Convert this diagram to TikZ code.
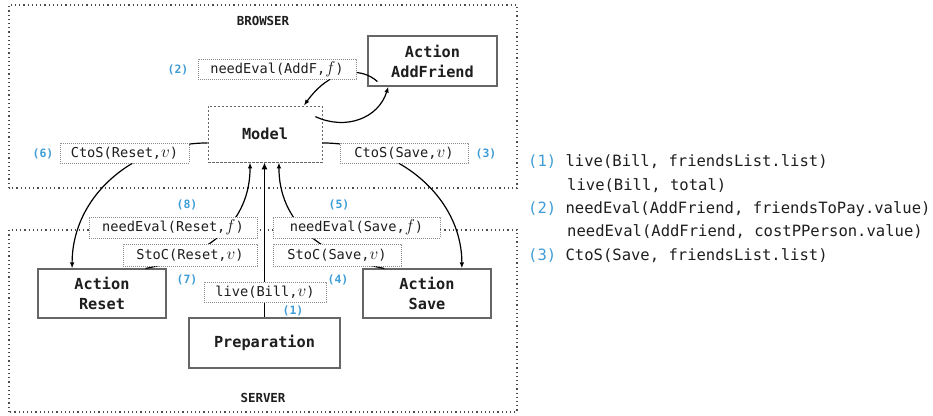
\documentclass[tikz,border=0pt]{standalone}
\usepackage{fontspec}
\setmonofont{DejaVu Sans Mono}
\usetikzlibrary{arrows.meta}
\definecolor{numblue}{RGB}{62,156,214}
\definecolor{ink}{RGB}{30,30,30}
% italic variables inside the mono labels
\newcommand{\varf}{{\fontsize{17}{17}\selectfont$f$}}
\newcommand{\varv}{{\fontsize{17}{17}\selectfont$v$}}
\tikzset{
  zone/.style={draw=black!70, line width=1.2bp, dash pattern=on 1.2bp off 3bp},
  zonetitle/.style={font=\ttfamily\bfseries\fontsize{12.5}{14}\selectfont, text=ink},
  actbox/.style={draw=black!60, line width=1.1bp, fill=white, align=center, inner sep=0pt,
    font=\ttfamily\bfseries\fontsize{15.3}{20}\selectfont, text=ink},
  modelbox/.style={draw=black!60, line width=0.8bp, dash pattern=on 2.5bp off 1.5bp, fill=white,
    inner sep=0pt, font=\ttfamily\bfseries\fontsize{15.3}{20}\selectfont, text=ink},
  lbl/.style={draw=black!45, line width=0.6bp, dash pattern=on 0.8bp off 1.2bp, fill=white,
    inner sep=0pt, minimum height=20bp, font=\ttfamily\fontsize{13.7}{16}\selectfont, text=ink},
  num/.style={font=\ttfamily\bfseries\fontsize{11.5}{13}\selectfont, text=numblue},
  edge/.style={draw=black, line width=1.2bp, -{Latex[length=6bp,width=4.5bp]}},
  listline/.style={anchor=base west, inner sep=0pt, font=\ttfamily\fontsize{15.6}{18}\selectfont, text=ink}
}
\begin{document}
\begin{tikzpicture}[x=1bp,y=1bp]
\useasboundingbox (0,0) rectangle (933,415);

% client and server areas
\draw[zone] (9,227) rectangle (517,410);
\draw[zone] (9,3) rectangle (517,185);
\node[zonetitle] (browser) at (263,394) {BROWSER};
\node[zonetitle] (server) at (263,17) {SERVER};

% components
\node[actbox, minimum width=129bp, minimum height=50bp] (AF) at (432.5,354) {Action\\AddFriend};
\node[modelbox, minimum width=114bp, minimum height=56bp] (Model) at (265,281) {Model};
\node[actbox, minimum width=128bp, minimum height=49bp] (Reset) at (102,121.5) {Action\\Reset};
\node[actbox, minimum width=128bp, minimum height=49bp] (Save) at (427,121.5) {Action\\Save};
\node[actbox, minimum width=151bp, minimum height=50bp] (Prep) at (264.5,72) {Preparation};

% messages
\draw[edge] ([shift={(10,5)}]AF.south west) .. controls +(-18,16) and +(26,36) .. ([xshift=39]Model.north);
\draw[edge] ([shift={(-7,-11)}]Model.north east) .. controls +(30,-14) and +(-10,-32) .. ([xshift=21]AF.south west);
\draw[edge] ([yshift=-9]Model.west) .. controls +(-73,0) and +(0,73) .. ([xshift=-30]Reset.north);
\draw[edge] ([yshift=-9]Model.east) .. controls +(73,0) and +(0,73) .. ([xshift=35]Save.north);
\draw[edge, -{Latex[length=7bp,width=6bp]}] (Prep.north) -- (Prep.north |- Model.south);
\draw[edge] ([xshift=-21]Reset.north east) .. controls +(64,12) and +(0,-59) .. ([xshift=-15]Model.south);
\draw[edge] ([xshift=22]Save.north west) .. controls +(-64,12) and +(0,-59) .. ([xshift=14]Model.south);

% message labels
\node[lbl, minimum width=158bp] (lAF) at (277,346) {needEval(AddF,\varf)};
\node[lbl, minimum width=129bp] (lCR) at (124.5,262) {CtoS(Reset,\varv)};
\node[lbl, minimum width=128bp] (lCS) at (404,262) {CtoS(Save,\varv)};
\node[lbl, minimum width=168bp, minimum height=21bp] (lNR) at (173,187.5) {needEval(Reset,\varf)};
\node[lbl, minimum width=134bp, minimum height=22bp] (lSR) at (190,160) {StoC(Reset,\varv)};
\node[lbl, minimum width=167bp, minimum height=21bp] (lNS) at (356.5,187.5) {needEval(Save,\varf)};
\node[lbl, minimum width=128bp, minimum height=22bp] (lSS) at (337,160) {StoC(Save,\varv)};
\node[lbl, minimum width=122bp] (lLB) at (265,123) {live(Bill,\varv)};

% step numbers
\node[num] (n1) at (293,104) {(1)};
\node[num] (n2) at (178,345) {(2)};
\node[num] (n3) at (486,261) {(3)};
\node[num] (n4) at (338,135) {(4)};
\node[num] (n5) at (339,210) {(5)};
\node[num] (n6) at (43,261) {(6)};
\node[num] (n7) at (187,135) {(7)};
\node[num] (n8) at (187,210) {(8)};

% legend
\node[listline] (k1) at (528,248.3) {\textcolor{numblue}{(1)} live(Bill, friendsList.list)};
\node[listline] (k2) at (567,225) {live(Bill, total)};
\node[listline] (k3) at (528,201.7) {\textcolor{numblue}{(2)} needEval(AddFriend, friendsToPay.value)};
\node[listline] (k4) at (567,178.3) {needEval(AddFriend, costPPerson.value)};
\node[listline] (k5) at (528,155) {\textcolor{numblue}{(3)} CtoS(Save, friendsList.list)};
\end{tikzpicture}
\end{document}
